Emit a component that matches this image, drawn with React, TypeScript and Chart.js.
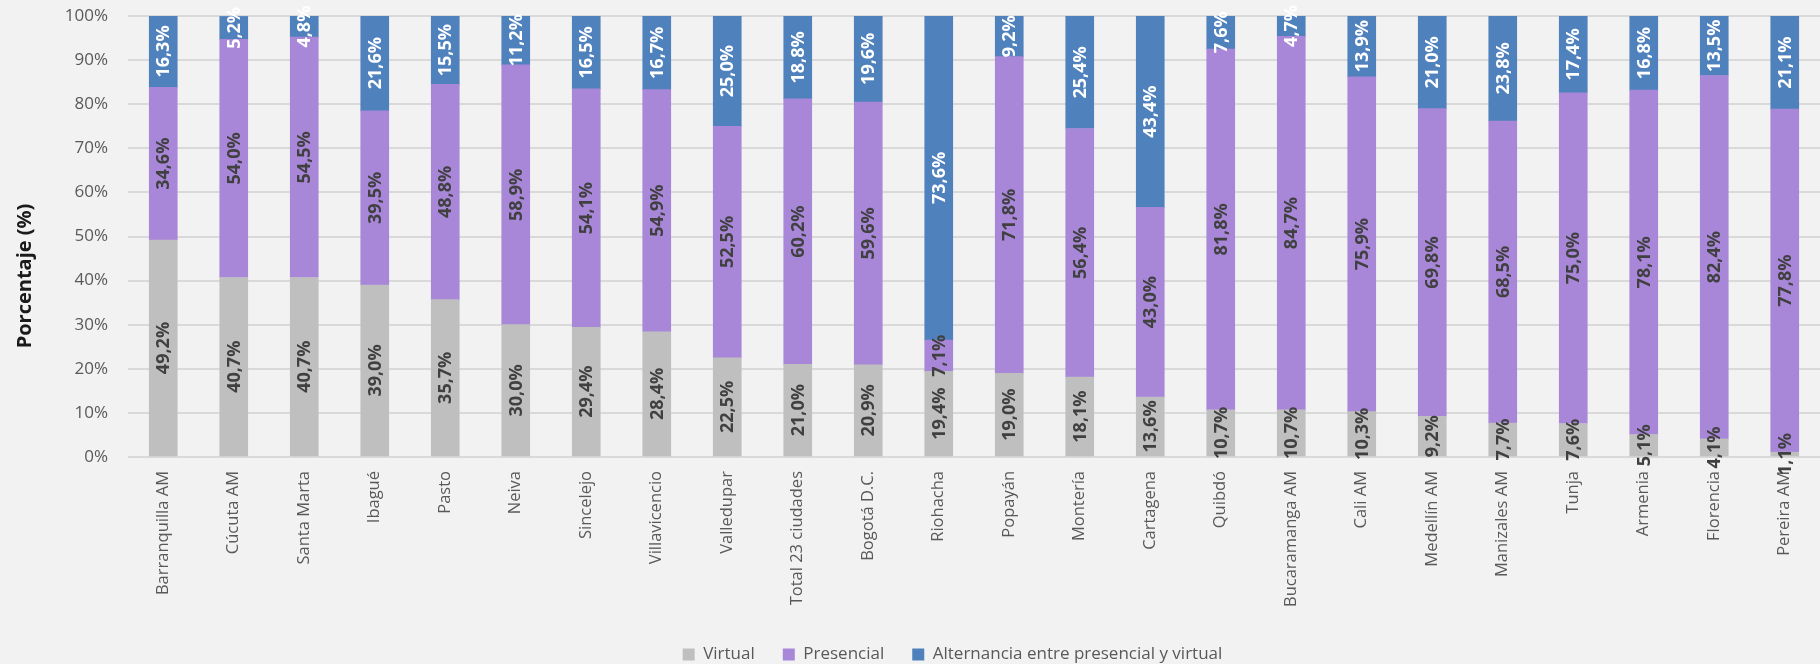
import React, { useEffect, useRef } from "react";
import { Chart, registerables } from "chart.js";

Chart.register(...registerables);

const categories = [
  "Barranquilla AM", "Cúcuta AM", "Santa Marta", "Ibagué", "Pasto", "Neiva",
  "Sincelejo", "Villavicencio", "Valledupar", "Total 23 ciudades", "Bogotá D.C.",
  "Riohacha", "Popayán", "Montería", "Cartagena", "Quibdó", "Bucaramanga AM",
  "Cali AM", "Medellín AM", "Manizales AM", "Tunja", "Armenia", "Florencia", "Pereira AM",
];

const virtual = [
  49.2, 40.7, 40.7, 39.0, 35.7, 30.0, 29.4, 28.4, 22.5, 21.0, 20.9, 19.4,
  19.0, 18.1, 13.6, 10.7, 10.7, 10.3, 9.2, 7.7, 7.6, 5.1, 4.1, 1.1,
];

const presencial = [
  34.6, 54.0, 54.5, 39.5, 48.8, 58.9, 54.1, 54.9, 52.5, 60.2, 59.6, 7.1,
  71.8, 56.4, 43.0, 81.8, 84.7, 75.9, 69.8, 68.5, 75.0, 78.1, 82.4, 77.8,
];

const alternancia = [
  16.3, 5.2, 4.8, 21.6, 15.5, 11.2, 16.5, 16.7, 25.0, 18.8, 19.6, 73.6,
  9.2, 25.4, 43.4, 7.6, 4.7, 13.9, 21.0, 23.8, 17.4, 16.8, 13.5, 21.1,
];

const seriesNames = ["Virtual", "Presencial", "Alternancia entre presencial y virtual"];
const seriesColors = ["#bfbfbf", "#a886d8", "#4f81bd"];
const labelColors = ["#404040", "#404040", "#ffffff"];
const yAxisTitle = "Porcentaje (%)";

const FONT = "'Open Sans', 'Noto Sans', sans-serif";

const segmentLabels = {
  id: "segmentLabels",
  afterDatasetsDraw(chart: any) {
    const ctx = chart.ctx;
    ctx.save();
    ctx.font = `bold 18px ${FONT}`;
    ctx.textAlign = "center";
    ctx.textBaseline = "middle";
    chart.data.datasets.forEach((ds: any, i: number) => {
      const meta = chart.getDatasetMeta(i);
      ctx.fillStyle = labelColors[i];
      meta.data.forEach((bar: any, j: number) => {
        const { x, y, base } = bar.getProps(["x", "y", "base"], true);
        const v = ds.data[j] as number;
        ctx.save();
        ctx.translate(x + 1, (y + base) / 2);
        ctx.rotate(-Math.PI / 2);
        ctx.fillText(v.toFixed(1).replace(".", ",") + "%", 0, 0);
        ctx.restore();
      });
    });
    ctx.restore();
  },
};

const yTitle = {
  id: "yTitle",
  afterLayout(chart: any) {
    // let the y tick labels draw outside the narrowed axis box without clipping
    const y = chart.scales.y;
    if (y) y.left = 0;
  },
  afterDraw(chart: any) {
    const ctx = chart.ctx;
    ctx.save();
    ctx.font = `bold 20px ${FONT}`;
    ctx.fillStyle = "#1a1a1a";
    ctx.textAlign = "center";
    ctx.textBaseline = "middle";
    ctx.translate(25, 276);
    ctx.rotate(-Math.PI / 2);
    ctx.fillText(yAxisTitle, 0, 0);
    ctx.restore();
  },
};

export default function App() {
  const ref = useRef<HTMLCanvasElement | null>(null);

  useEffect(() => {
    document.body.style.margin = "0";
    document.body.style.background = "#f2f2f2";
    document.body.style.overflow = "hidden";
    const canvas = ref.current;
    if (!canvas) return;
    const chart = new Chart(canvas, {
      type: "bar",
      data: {
        labels: categories,
        datasets: [virtual, presencial, alternancia].map((d, i) => ({
          label: seriesNames[i],
          data: d,
          backgroundColor: seriesColors[i],
          borderWidth: 0,
          barThickness: 28,
        })),
      },
      options: {
        responsive: false,
        animation: false,
        layout: { padding: { left: 81, right: -4, top: 16, bottom: 0 } },
        scales: {
          x: {
            stacked: true,
            grid: { display: false, drawTicks: false },
            border: { display: false },
            ticks: {
              color: "#595959",
              font: { family: FONT, size: 16.5 },
              minRotation: 90,
              maxRotation: 90,
              padding: 14,
              autoSkip: false,
            },
            afterFit: (s: any) => {
              s.height = 161;
              s.paddingLeft = 0;
              s.paddingRight = 0;
            },
          },
          y: {
            stacked: true,
            min: 0,
            max: 100,
            ticks: {
              stepSize: 10,
              color: "#595959",
              font: { family: FONT, size: 17 },
              padding: 20,
              callback: (v: any) => v + "%",
            },
            grid: { color: "#d9d9d9", lineWidth: 2, drawTicks: false },
            border: { display: false },
            afterFit: (s: any) => {
              s.width = 47;
              s.paddingTop = 0;
              s.paddingBottom = 0;
            },
          },
        },
        plugins: {
          legend: {
            position: "bottom",
            maxHeight: 46,
            labels: {
              boxWidth: 12,
              boxHeight: 12,
              padding: 28,
              color: "#595959",
              font: { family: FONT, size: 17 },
            },
          },
          tooltip: { enabled: false },
        },
      } as any,
      plugins: [segmentLabels, yTitle],
    });
    return () => chart.destroy();
  }, []);

  return (
    <div style={{ width: 1820, height: 664, background: "#f2f2f2" }}>
      <canvas ref={ref} width={1820} height={664} />
    </div>
  );
}
